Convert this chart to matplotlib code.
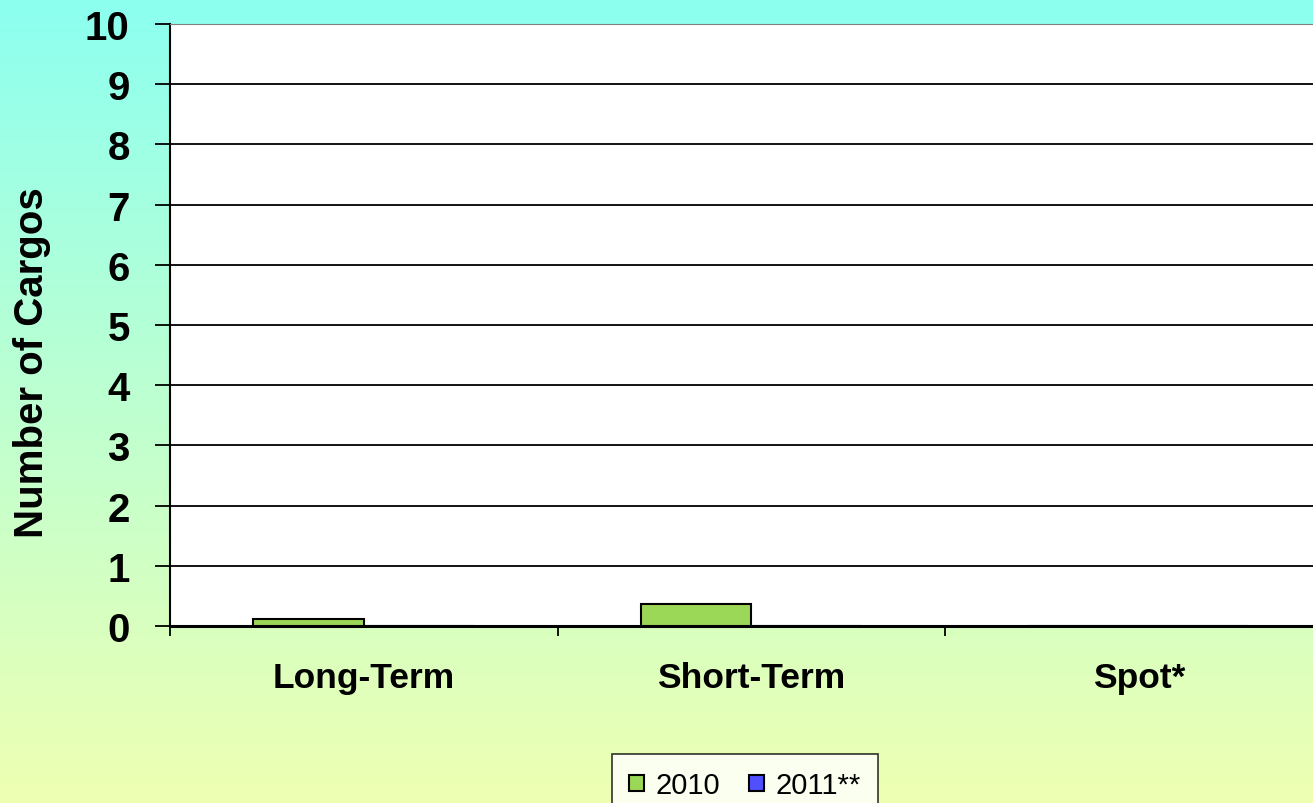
import matplotlib.pyplot as plt
import numpy as np

plt.rcParams['font.family'] = ['Liberation Sans', 'DejaVu Sans']

# data
categories = ['Long-Term', 'Short-Term', 'Spot*']
series_names = ['2010', '2011**']
vals_2010 = [0.12, 0.37, 0.0]
vals_2011 = [0.0, 0.0, 0.0]
colors = ['#9bd857', '#5050ff']

fig = plt.figure(figsize=(13.13, 8.04), dpi=100)

# gradient background, cyan at the top to pale yellow at the bottom
bg = fig.add_axes([0, 0, 1, 1], zorder=-10)
top = np.array([140, 255, 240]) / 255
bot = np.array([238, 255, 178]) / 255
t = np.linspace(0, 1, 256)[:, None]
grad = top * (1 - t) + bot * t
bg.imshow(grad[:, None, :], aspect='auto', extent=[0, 1, 0, 1])
bg.axis('off')

ax = fig.add_axes([170 / 1313, 177 / 804, 1162.5 / 1313, 602 / 804])
ax.set_facecolor('white')

x = np.arange(len(categories))
w = 0.285
ax.bar(x - w / 2, vals_2010, w, color=colors[0], edgecolor='black', linewidth=1.5,
       label=series_names[0], zorder=3)
ax.bar(x + w / 2, vals_2011, w, color=colors[1], edgecolor='black', linewidth=1.5,
       label=series_names[1], zorder=3)

ax.set_xlim(-0.5, 2.5)
ax.set_ylim(0, 10)
ax.set_yticks(range(0, 11))
ax.yaxis.grid(True, color='black', linewidth=1.3)
ax.set_axisbelow(True)

ax.set_xticks(x)
ax.set_xticklabels(categories, fontsize=25.5, fontweight='bold')
ax.set_xticks([-0.5, 0.5, 1.5], minor=True)
ax.tick_params(axis='x', which='major', length=0, pad=25)
ax.tick_params(axis='x', which='minor', length=7, width=1.3, direction='out')
ax.tick_params(axis='y', length=11, width=1.3, pad=18, labelsize=29)
for lbl in ax.get_yticklabels():
    lbl.set_fontweight('bold')

ax.spines['top'].set_color('#808080')
ax.spines['right'].set_visible(False)
ax.spines['left'].set_linewidth(1.5)
ax.spines['bottom'].set_linewidth(2.2)

fig.text(32 / 1313, 1 - 363 / 804, 'Number of Cargos', rotation=90, fontsize=29,
         fontweight='bold', ha='center', va='center')

leg = fig.legend(loc='upper center', bbox_to_anchor=(745 / 1313, 1 - 755 / 804),
                 ncol=2, fontsize=21, frameon=True, fancybox=False,
                 handlelength=0.5, handleheight=0.5, handletextpad=0.4,
                 columnspacing=1.0, borderpad=0.6, borderaxespad=0)
leg.get_frame().set_edgecolor('black')
leg.get_frame().set_linewidth(1.2)

fig.savefig('out.png', dpi=100)
